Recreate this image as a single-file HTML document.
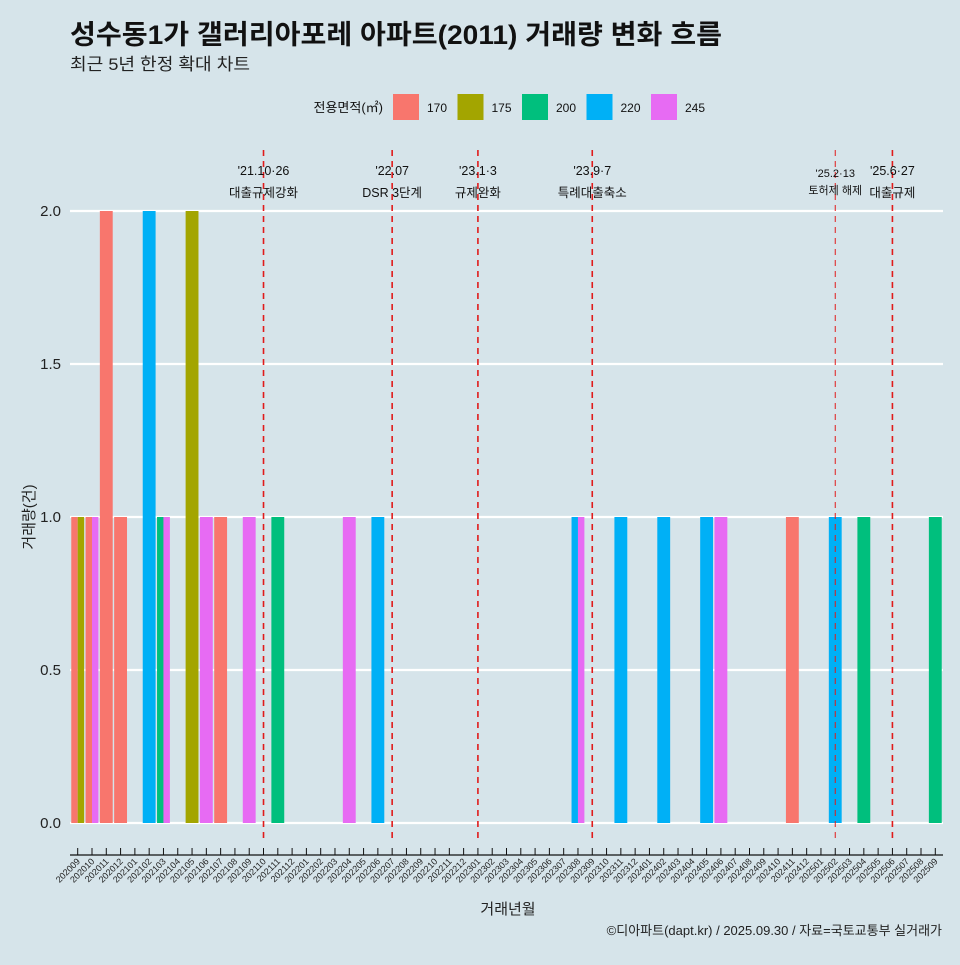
<!DOCTYPE html>
<html><head><meta charset="utf-8">
<style>
body{margin:0;background:#d6e4ea;}
svg text{font-family:"Liberation Sans","Noto Sans CJK KR",sans-serif;}
</style></head>
<body>
<svg id="c" width="960" height="960" xmlns="http://www.w3.org/2000/svg">
<rect width="960" height="960" fill="#d6e4ea"/>
<text x="70" y="44" font-size="27" font-weight="bold" fill="#111" textLength="652" lengthAdjust="spacingAndGlyphs">성수동1가 갤러리아포레 아파트(2011) 거래량 변화 흐름</text>
<text x="70" y="70" font-size="17" fill="#222" textLength="180" lengthAdjust="spacingAndGlyphs">최근 5년 한정 확대 차트</text>
<g id="legend"></g>
<g id="grid"></g><g id="bars"></g><g id="events"></g><g id="axes"></g>
<text x="508" y="914" font-size="15" text-anchor="middle" fill="#222">거래년월</text>
<text transform="translate(34,517) rotate(-90)" font-size="15" text-anchor="middle" fill="#222">거래량(건)</text>
<text x="942" y="935" font-size="13" text-anchor="end" fill="#222">©디아파트(dapt.kr) / 2025.09.30 / 자료=국토교통부 실거래가</text>
</svg>
<script>
const series = ["170","175","200","220","245"];
const colors = ["#f8766d","#a3a500","#00bf7d","#00b0f6","#e76bf3"];
const months = [];
for(let y=2020;y<=2025;y++)for(let m=1;m<=12;m++){const k=y*100+m;if(k>=202009&&k<=202509)months.push(String(k));}
const recMonths = ["202009","202009","202010","202010","202011","202012","202102","202103","202103","202105","202106","202107","202109","202111","202204","202206","202308","202308","202311","202402","202405","202406","202411","202502","202504","202509"];
const recSeries = ["170","175","170","245","170","170","220","200","245","175","245","170","245","200","245","220","220","245","220","220","220","245","170","220","200","200"];
const recValues = [1,1,1,1,2,1,2,1,1,2,1,1,1,1,1,1,1,1,1,1,1,1,1,1,1,1];
const yTicks = [0,0.5,1.0,1.5,2.0];
const eventMonths = ["202110","202207","202301","202309","202502","202506"];
const eventLine1 = ["'21.10·26","'22.07","'23.1·3","'23.9·7","'25.2·13","'25.6·27"];
const eventLine2 = ["대출규제강화","DSR 3단계","규제완화","특례대출축소","토허제 해제","대출규제"];

const NS="http://www.w3.org/2000/svg";
function mk(tag,attrs,parent){const e=document.createElementNS(NS,tag);for(const k in attrs)e.setAttribute(k,attrs[k]);parent.appendChild(e);return e;}
const x0=77.7, step=(935.3-77.7)/(months.length-1);
const xm=m=>x0+months.indexOf(m)*step;
const y=v=>823-v*306;
const grid=document.getElementById('grid'), bars=document.getElementById('bars'), ev=document.getElementById('events'), ax=document.getElementById('axes'), lg=document.getElementById('legend');

yTicks.forEach(t=>{
  const l=mk('line',{x1:70,x2:943,y1:y(t),y2:y(t),stroke:'#fff','stroke-width':2.2},grid);
  
  
  const tx=mk('text',{x:61,y:y(t)+5,'font-size':15,'text-anchor':'end',fill:'#222'},ax);
  tx.textContent=t.toFixed(1);
  
  
});

const groups={};
recMonths.forEach((m,i)=>{(groups[m]=groups[m]||[]).push(i);});
const gw=step*0.9;
Object.keys(groups).forEach(m=>{
  const idx=groups[m].sort((a,b)=>series.indexOf(recSeries[a])-series.indexOf(recSeries[b]));
  const bw=gw/idx.length;
  idx.forEach((i,j)=>{
    const left=xm(m)-gw/2+j*bw;
    const r=mk('rect',{x:left,y:y(recValues[i]),width:bw,height:y(0)-y(recValues[i]),fill:colors[series.indexOf(recSeries[i])]},bars);
    
    
  });
});

eventMonths.forEach((m,i)=>{
  const x=xm(m);
  const l=mk('line',{x1:x,x2:x,y1:150,y2:842,stroke:'#e01b1b','stroke-width':m==='202502'?1:1.6,'stroke-dasharray':'6,5'},ev);
  
  
  const fs=m==='202502'?11:12.5;
  const t1=mk('text',{x:x,y:m==='202502'?177:175,'font-size':fs,'text-anchor':'middle',fill:'#111'},ev);
  t1.textContent=eventLine1[i];
  
  
  const t2=mk('text',{x:x,y:m==='202502'?194:197,'font-size':fs,'text-anchor':'middle',fill:'#111'},ev);
  t2.textContent=eventLine2[i];
  
  
});

const axl=mk('line',{x1:70,x2:943,y1:855,y2:855,stroke:'#111','stroke-width':1.3},ax);


months.forEach(m=>{
  const x=xm(m);
  const tk=mk('line',{x1:x,x2:x,y1:848,y2:855,stroke:'#111','stroke-width':1},ax);
  
  
  const t=mk('text',{transform:`translate(${x+3},862) rotate(-45)`,'font-size':9,'text-anchor':'end',fill:'#222'},ax);
  t.textContent=m;
  
  
});

const lt=mk('text',{x:383,y:112,'font-size':13,'text-anchor':'end',fill:'#111'},lg);
lt.textContent='전용면적(㎡)';


series.forEach((s,i)=>{
  const bx=393+i*64.5;
  const r=mk('rect',{x:bx,y:94,width:26,height:26,fill:colors[i]},lg);
  
  
  const t=mk('text',{x:bx+34,y:112,'font-size':12,fill:'#111'},lg);
  t.textContent=s;
  
  
});
</script>
</body></html>
